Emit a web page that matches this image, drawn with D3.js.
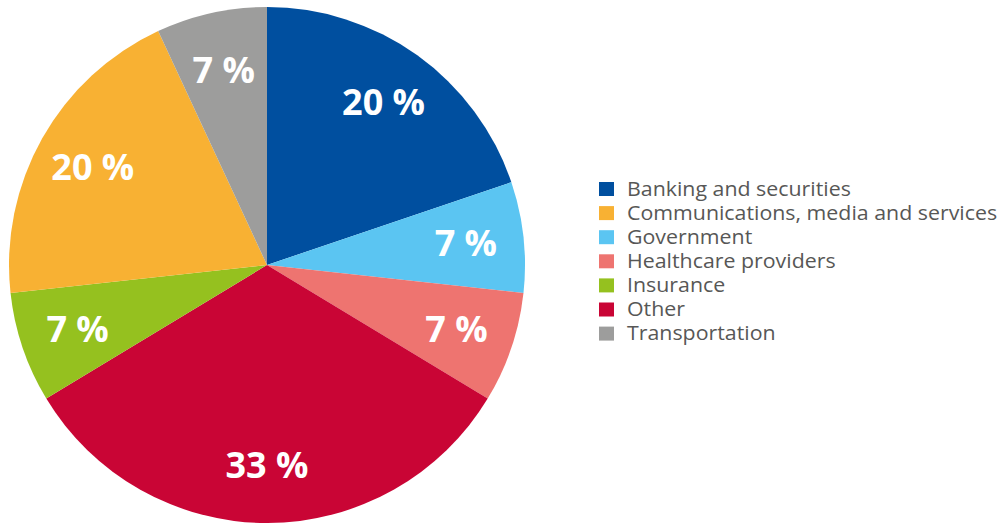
<!DOCTYPE html>
<html>
<head>
<meta charset="utf-8">
<script src="https://cdn.jsdelivr.net/npm/d3@7"></script>
<style>
  html, body { margin: 0; padding: 0; background: #fff; }
  svg { display: block; font-family: "Open Sans", sans-serif; }
</style>
</head>
<body>
<svg id="chart" width="997" height="523"></svg>
<script>
// Sectors in the order they run clockwise from 12 o'clock
const sliceOrder = ["Banking and securities", "Government", "Healthcare providers", "Other",
                    "Insurance", "Communications, media and services", "Transportation"];
const sliceValues = [20, 7, 7, 33, 7, 20, 7];

// Legend entries (alphabetical)
const legendItems = ["Banking and securities", "Communications, media and services", "Government",
                     "Healthcare providers", "Insurance", "Other", "Transportation"];

const sectorColors = {
  "Banking and securities": "#004f9f",
  "Communications, media and services": "#f8b133",
  "Government": "#5bc5f2",
  "Healthcare providers": "#ee7470",
  "Insurance": "#95c11f",
  "Other": "#c90535",
  "Transportation": "#9d9d9c"
};

const svg = d3.select("#chart");
const cx = 267, cy = 265, radius = 258, labelRadius = 200;

const data = sliceOrder.map((name, i) => ({ name, value: sliceValues[i] }));

const pie = d3.pie().sort(null).value(d => d.value);
const arc = d3.arc().innerRadius(0).outerRadius(radius);
const labelArc = d3.arc().innerRadius(labelRadius).outerRadius(labelRadius);

const g = svg.append("g").attr("transform", `translate(${cx},${cy})`);
const arcs = pie(data);

g.selectAll("path")
  .data(arcs)
  .join("path")
  .attr("d", arc)
  .attr("fill", d => sectorColors[d.data.name]);

g.selectAll("text")
  .data(arcs)
  .join("text")
  .attr("transform", d => `translate(${labelArc.centroid(d)})`)
  .attr("text-anchor", "middle")
  .attr("dy", "0.36em")
  .attr("fill", "#fff")
  .attr("font-weight", 700)
  .attr("font-size", 36)
  .text(d => `${d.data.value} %`);

// Legend: square swatch plus slightly widened label text
const legend = svg.append("g").attr("transform", "translate(599,189)");
const rowH = 24.1;
const rows = legend.selectAll("g")
  .data(legendItems)
  .join("g")
  .attr("transform", (d, i) => `translate(0,${i * rowH})`);

rows.append("rect")
  .attr("x", 0).attr("y", -7)
  .attr("width", 15).attr("height", 14)
  .attr("fill", d => sectorColors[d]);

rows.append("text")
  .attr("transform", "translate(28,0) scale(1.095,1)")
  .attr("dy", "0.35em")
  .attr("font-size", 19.5)
  .attr("fill", "#575756")
  .text(d => d);
</script>
</body>
</html>
